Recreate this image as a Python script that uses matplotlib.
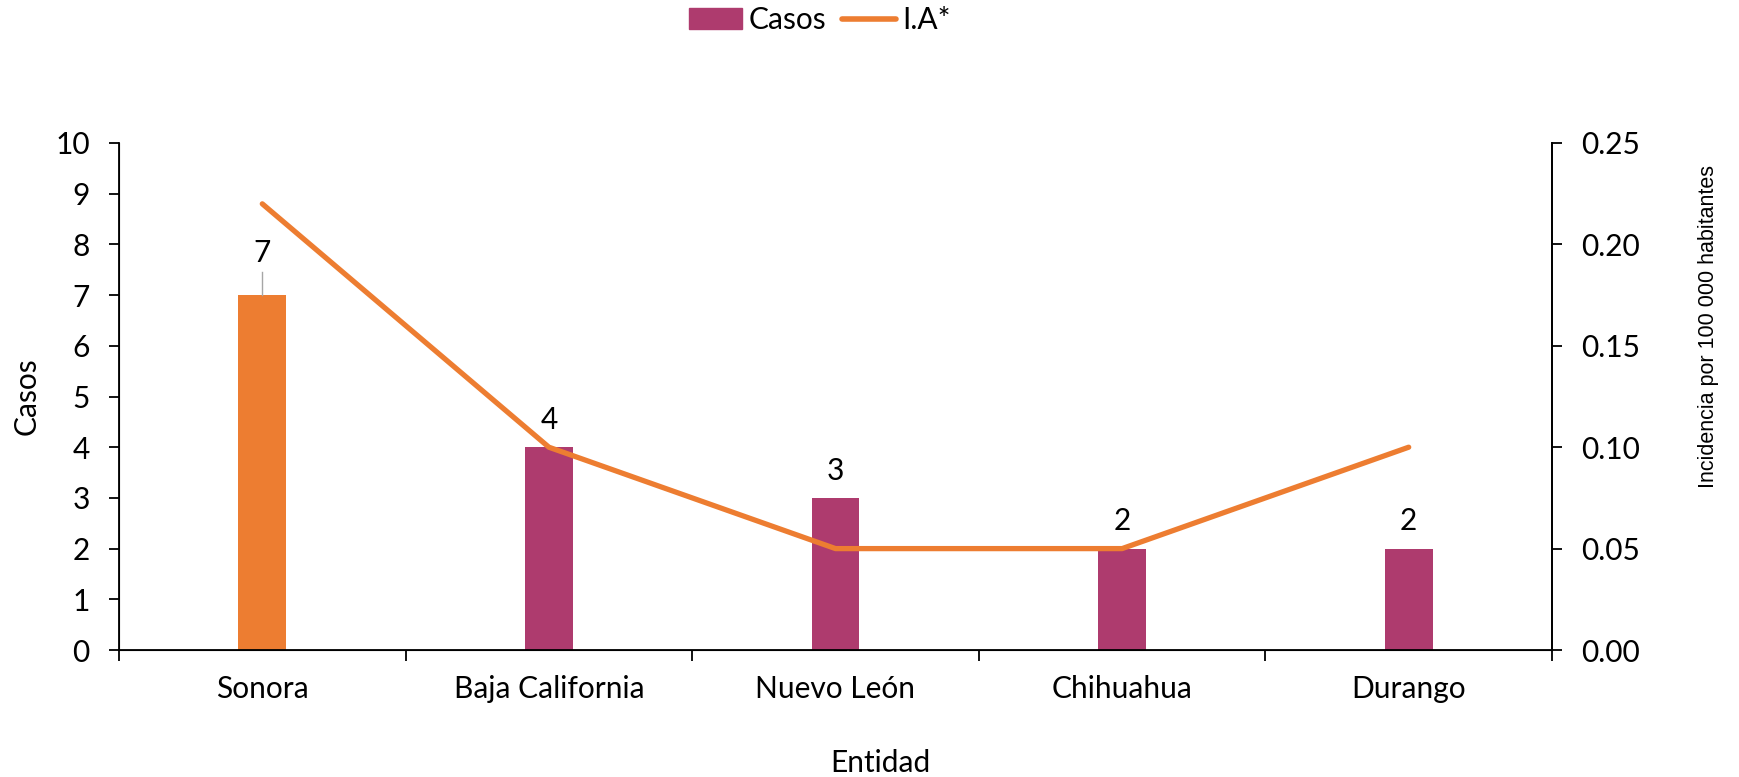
import matplotlib.pyplot as plt
import numpy as np

entidades = ['Sonora', 'Baja California', 'Nuevo León', 'Chihuahua', 'Durango']
casos = [7, 4, 3, 2, 2]
incidencia = [0.22, 0.10, 0.05, 0.05, 0.10]

morado = '#AE3B6E'
naranja = '#ED7D31'
bar_colors = [naranja, morado, morado, morado, morado]

plt.rcParams['font.family'] = ['Lato', 'DejaVu Sans']
fs = 21.5

W, H = 1740, 777
fig = plt.figure(figsize=(W / 100, H / 100), dpi=100)
ax = fig.add_axes([119 / W, 1 - 650 / H, (1552 - 119) / W, (650 - 143) / H])
x = np.arange(len(entidades))

ax.bar(x, casos, width=0.167, color=bar_colors, zorder=2)
ax.set_xlim(-0.5, len(entidades) - 0.5)
ax.set_ylim(0, 10)
ax.set_yticks(range(0, 11))
ax.tick_params(axis='y', labelsize=fs, length=7, width=1.3, direction='out', pad=14)
ax.set_xticks(x)
ax.set_xticklabels(entidades, fontsize=fs)
ax.tick_params(axis='x', length=0, pad=18)
ax.set_xticks(np.arange(-0.5, len(entidades)), minor=True)
ax.tick_params(axis='x', which='minor', length=8, width=1.3, direction='out')
ax.set_ylabel('Casos', fontsize=fs)
ax.yaxis.set_label_coords(-92 / 1433, 0.5)
ax.yaxis.label.set_va('center')
ax.set_xlabel('Entidad', fontsize=fs)
ax.xaxis.set_label_coords(0.531, -0.223)
ax.xaxis.label.set_va('center')

ax.spines['top'].set_visible(False)
for sp in ['left', 'bottom', 'right']:
    ax.spines[sp].set_linewidth(1.3)

# etiquetas de valor
for i, v in enumerate(casos):
    if i == 0:
        ax.plot([i, i], [v, v + 0.45], color='#A6A6A6', lw=1, zorder=3)
        ax.text(i, v + 0.83, str(v), ha='center', va='center', fontsize=fs)
    else:
        ax.text(i, v + 0.54, str(v), ha='center', va='center', fontsize=fs)

ax2 = ax.twinx()
ax2.plot(x, incidencia, color=naranja, lw=3.8, solid_capstyle='round', zorder=4)
ax2.set_ylim(0, 0.25)
ax2.set_yticks(np.arange(0, 0.26, 0.05))
ax2.set_yticklabels([f'{t:.2f}' for t in np.arange(0, 0.26, 0.05)])
ax2.tick_params(axis='y', labelsize=fs, length=7, width=1.3, direction='out', pad=14)
ax2.spines['top'].set_visible(False)
ax2.spines['right'].set_linewidth(1.3)
ax2.set_ylabel('Incidencia por 100 000 habitantes', fontsize=15.5,
               family=['Liberation Sans', 'DejaVu Sans'])
ax2.yaxis.set_label_coords((1709 - 119) / 1433, (650 - 327) / 507)
ax2.yaxis.label.set_va('center')

handles = [plt.Rectangle((0, 0), 1, 1, color=morado),
           plt.Line2D([0], [0], color=naranja, lw=4, solid_capstyle='round')]
fig.legend(handles, ['Casos', 'I.A*'], loc='center', bbox_to_anchor=(0.471, 0.974),
           ncol=2, frameon=False, fontsize=fs, handlelength=1.8, handletextpad=0.2,
           columnspacing=0.55, borderaxespad=0)

fig.savefig('out.png', dpi=100)
